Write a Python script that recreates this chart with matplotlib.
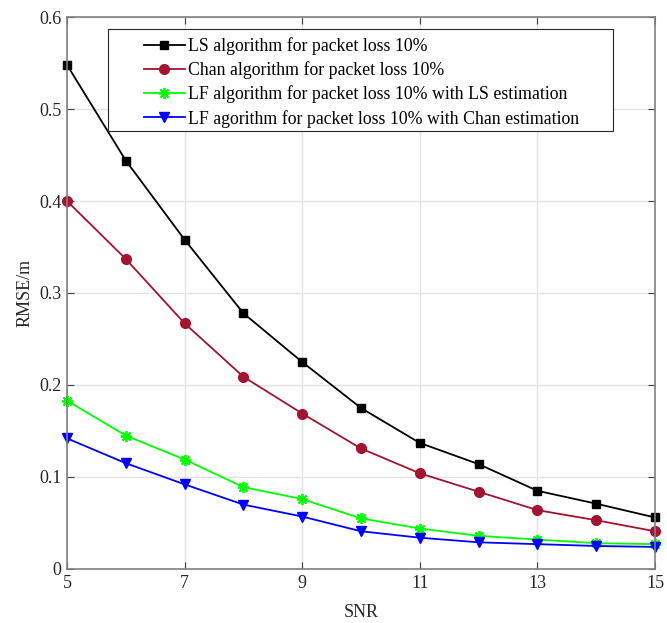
import numpy as np
import matplotlib
matplotlib.use("Agg")
import matplotlib.pyplot as plt
from matplotlib.patches import Rectangle

plt.rcParams['font.family'] = ['Liberation Serif', 'DejaVu Serif']

snr = [5, 6, 7, 8, 9, 10, 11, 12, 13, 14, 15]

rmse_ls = [0.548, 0.444, 0.358, 0.278, 0.225, 0.175, 0.137, 0.114, 0.085, 0.071, 0.056]
rmse_chan = [0.400, 0.337, 0.267, 0.209, 0.169, 0.131, 0.104, 0.084, 0.064, 0.053, 0.041]
rmse_lf_ls = [0.183, 0.145, 0.119, 0.089, 0.076, 0.055, 0.044, 0.036, 0.032, 0.028, 0.027]
rmse_lf_chan = [0.142, 0.115, 0.092, 0.070, 0.057, 0.041, 0.034, 0.029, 0.027, 0.025, 0.024]

labels = ["LS algorithm for packet loss 10%",
          "Chan algorithm for packet loss 10%",
          "LF algorithm for packet loss 10% with LS estimation",
          "LF agorithm for packet loss 10% with Chan estimation"]

xticks = [5, 7, 9, 11, 13, 15]
yticks = [0, 0.1, 0.2, 0.3, 0.4, 0.5, 0.6]

fig = plt.figure(figsize=(6.67, 6.23), dpi=100)
ax = fig.add_axes([0.1004, 0.0867, 0.8816, 0.886])

ax.plot(snr, rmse_ls, color='black', marker='s', markersize=6, lw=1.3, label=labels[0], clip_on=False)
ax.plot(snr, rmse_chan, color='#A2142F', marker='o', markersize=7, lw=1.3, label=labels[1], clip_on=False)
ax.plot(snr, rmse_lf_ls, color='#00FF00', marker=(8, 2, 0), markersize=8, mew=1.3, lw=1.3,
        label=labels[2], clip_on=False)
ax.plot(snr, rmse_lf_chan, color='#0000FF', marker='v', markersize=7, lw=1.3, label=labels[3], clip_on=False)

ax.set_xlim(5, 15)
ax.set_ylim(0, 0.6)
ax.set_xticks(xticks)
ax.set_yticks(yticks)
ax.set_yticklabels(['0', '0.1', '0.2', '0.3', '0.4', '0.5', '0.6'])
ax.grid(True, color='#e3e3e3', lw=1.0)
ax.set_axisbelow(True)
for s in ax.spines.values():
    s.set_color('#808080')
    s.set_linewidth(1.2)
ax.tick_params(direction='in', length=5, color='#404040', labelsize=13, labelcolor='#262626',
               top=True, right=True, pad=4)
ax.set_xlabel('SNR', fontsize=13, color='#262626', labelpad=9)
ax.set_ylabel('RMSE/m', fontsize=13, color='#262626', labelpad=4)

# legend box drawn separately (MATLAB style wide padding)
ax.add_patch(Rectangle((0.0697, 0.7935), 0.8588, 0.1848, transform=ax.transAxes,
                       facecolor='white', edgecolor='#262626', lw=0.8, zorder=4))
leg = ax.legend(loc='upper left', bbox_to_anchor=(0.131, 0.964), fontsize=12.8, frameon=False,
                borderpad=0, labelspacing=0.36, handlelength=2.3, handletextpad=0.15,
                borderaxespad=0)
leg.set_zorder(5)

fig.savefig('out.png', dpi=100)
